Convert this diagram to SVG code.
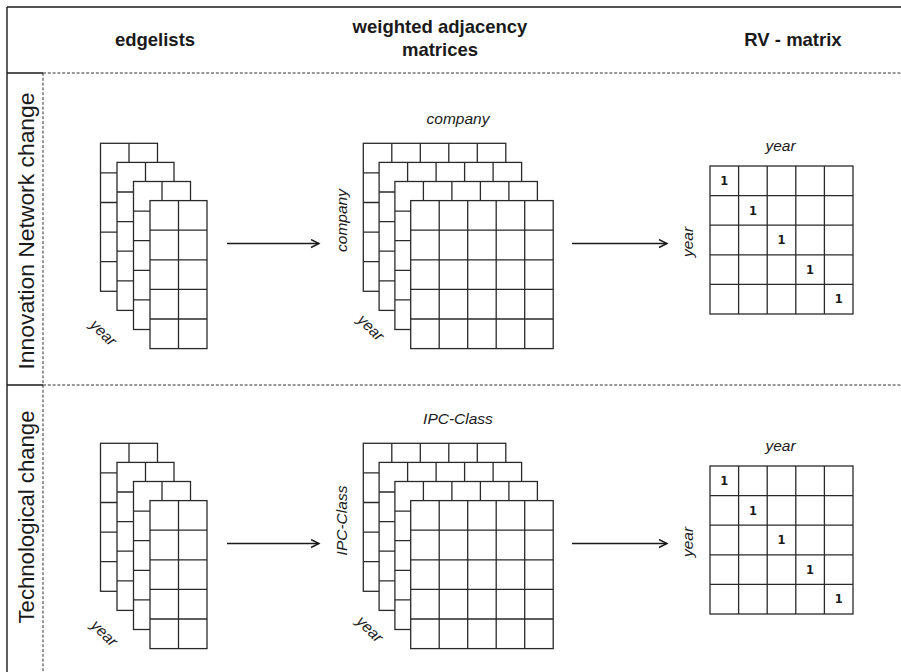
<svg xmlns="http://www.w3.org/2000/svg" width="901" height="672" viewBox="0 0 901 672">
<style>
.frame{stroke:#1a1a1a;stroke-width:1.4;fill:none}
.dash{stroke:#333;stroke-width:1;stroke-dasharray:3 1.8;fill:none}
.g{fill:#fff;stroke:#2a2a2a;stroke-width:1.3}
.gl{stroke:#2a2a2a;stroke-width:1.3;fill:none}
.hd{font-family:"Liberation Sans",Arial,sans-serif;font-weight:bold;font-size:18.5px;fill:#1a1a1a;text-anchor:middle}
.rl{font-family:"Liberation Sans",Arial,sans-serif;font-size:22px;fill:#1a1a1a;text-anchor:middle}
.ax{font-family:"Liberation Sans",Arial,sans-serif;font-style:italic;font-size:15.5px;fill:#1a1a1a;text-anchor:middle}
.one{font-family:"DejaVu Sans",sans-serif;font-weight:bold;font-size:11.5px;fill:#1a1a1a;text-anchor:middle}
.arr{stroke:#1a1a1a;stroke-width:1.4;fill:none;marker-end:url(#ah)}
</style>
<defs>
<marker id="ah" markerUnits="userSpaceOnUse" markerWidth="12" markerHeight="12" refX="9" refY="5" orient="auto"><path d="M1,1 L9,5 L1,9" fill="none" stroke="#1a1a1a" stroke-width="1.4"/></marker>
<g id="el"><rect class="g" x="0" y="0" width="57" height="148"/><path class="gl" d="M28.5,0V148M0,29.6H57M0,59.2H57M0,88.8H57M0,118.4H57"/></g>
<g id="am"><rect class="g" x="0" y="0" width="142.5" height="148"/><path class="gl" d="M28.5,0V148M57,0V148M85.5,0V148M114,0V148M0,29.6H142.5M0,59.2H142.5M0,88.8H142.5M0,118.4H142.5"/></g>
<g id="rvg"><rect class="g" x="0" y="0" width="143" height="148"/><path class="gl" d="M28.6,0V148M57.2,0V148M85.8,0V148M114.4,0V148M0,29.6H143M0,59.2H143M0,88.8H143M0,118.4H143"/></g>
</defs>

<g id="frame">
<path class="frame" d="M7,7H901M7,7V672M7,73H43M7,385H43"/>
<path class="dash" d="M43,73H901M43,385H901M43,73V672"/>
</g>

<g id="header">
<text class="hd" x="155" y="46">edgelists</text>
<text class="hd" x="440" y="33">weighted adjacency</text>
<text class="hd" x="440" y="56">matrices</text>
<text class="hd" x="793" y="46">RV - matrix</text>
</g>

<g id="row-labels">
<text class="rl" transform="translate(34,231) rotate(-90)" textLength="277" lengthAdjust="spacingAndGlyphs">Innovation Network change</text>
<text class="rl" transform="translate(34,517) rotate(-90)" textLength="213" lengthAdjust="spacingAndGlyphs">Technological change</text>
</g>

<g id="edgelists-innovation">
<use href="#el" x="100.5" y="143.3"/>
<use href="#el" x="117" y="162.4"/>
<use href="#el" x="133.5" y="181.5"/>
<use href="#el" x="150" y="200.6"/>
<text class="ax" transform="translate(102.5,333.5) rotate(45)" y="4">year</text>
</g>

<g id="adjacency-innovation">
<use href="#am" x="363.3" y="143.3"/>
<use href="#am" x="379.1" y="162.4"/>
<use href="#am" x="394.9" y="181.5"/>
<use href="#am" x="410.7" y="200.6"/>
<text class="ax" x="458" y="124">company</text>
<text class="ax" transform="translate(347,220.5) rotate(-90)">company</text>
<text class="ax" transform="translate(370,328.5) rotate(45)" y="4">year</text>
</g>

<g id="rv-innovation">
<use href="#rvg" x="710" y="166"/>
<text class="ax" x="780.5" y="151">year</text>
<text class="ax" transform="translate(693,242) rotate(-90)">year</text>
<text class="one" x="724.3" y="185">1</text>
<text class="one" x="752.9" y="214.6">1</text>
<text class="one" x="781.5" y="244.2">1</text>
<text class="one" x="810.1" y="273.8">1</text>
<text class="one" x="838.7" y="303.4">1</text>
</g>

<g id="edgelists-technological">
<use href="#el" x="100.5" y="443.3"/>
<use href="#el" x="117" y="462.4"/>
<use href="#el" x="133.5" y="481.5"/>
<use href="#el" x="150" y="500.6"/>
<text class="ax" transform="translate(103.5,634) rotate(45)" y="4">year</text>
</g>

<g id="adjacency-technological">
<use href="#am" x="363.3" y="443.3"/>
<use href="#am" x="379.1" y="462.4"/>
<use href="#am" x="394.9" y="481.5"/>
<use href="#am" x="410.7" y="500.6"/>
<text class="ax" x="458" y="424">IPC-Class</text>
<text class="ax" transform="translate(347,520.5) rotate(-90)">IPC-Class</text>
<text class="ax" transform="translate(369,630) rotate(45)" y="4">year</text>
</g>

<g id="rv-technological">
<use href="#rvg" x="710" y="466"/>
<text class="ax" x="780.5" y="451">year</text>
<text class="ax" transform="translate(693,542) rotate(-90)">year</text>
<text class="one" x="724.3" y="485">1</text>
<text class="one" x="752.9" y="514.6">1</text>
<text class="one" x="781.5" y="544.2">1</text>
<text class="one" x="810.1" y="573.8">1</text>
<text class="one" x="838.7" y="603.4">1</text>
</g>

<g id="connectors">
<path class="arr" d="M227,243.5H319"/>
<path class="arr" d="M572,243.5H667"/>
<path class="arr" d="M227,543.5H319"/>
<path class="arr" d="M572,543.5H667"/>
</g>
</svg>
